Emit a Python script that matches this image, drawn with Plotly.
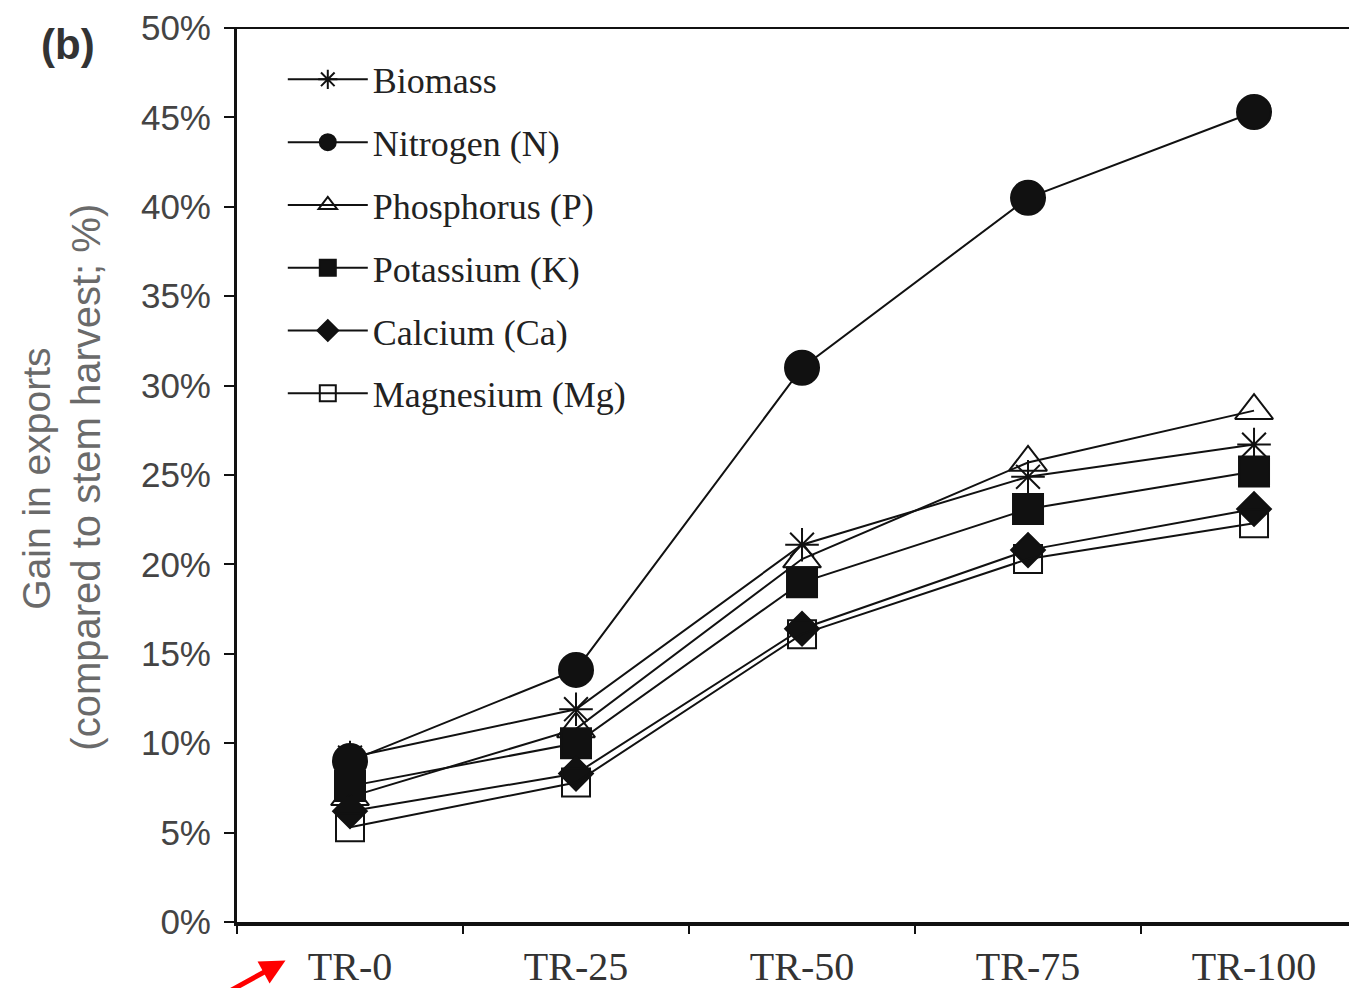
import plotly.graph_objects as go

categories = ["TR-0", "TR-25", "TR-50", "TR-75", "TR-100"]
biomass = [9.2, 11.9, 21.1, 24.9, 26.7]
nitrogen = [9.0, 14.1, 31.0, 40.5, 45.3]
phosphorus = [7.0, 10.8, 20.3, 25.7, 28.6]
potassium = [7.6, 10.0, 19.0, 23.1, 25.2]
calcium = [6.2, 8.3, 16.4, 20.8, 23.1]
magnesium = [5.3, 7.8, 16.1, 20.3, 22.3]
y_ticks = [0, 5, 10, 15, 20, 25, 30, 35, 40, 45, 50]
y_ticktext = [f"{v}%" for v in y_ticks]

series = [
    ("Biomass", biomass, "asterisk-open", 28),
    ("Nitrogen (N)", nitrogen, "circle", 34),
    ("Phosphorus (P)", phosphorus, "triangle-up-open", 33),
    ("Potassium (K)", potassium, "square", 30),
    ("Calcium (Ca)", calcium, "diamond", 26),
    ("Magnesium (Mg)", magnesium, "square-open", 28),
]

fig = go.Figure()
for i, (name, vals, sym, size) in enumerate(series):
    fig.add_trace(go.Scatter(
        x=categories, y=vals, name=name, mode="lines+markers",
        legendgroup=f"g{i}",
        line=dict(color="#111111", width=2),
        marker=dict(symbol=sym, size=size, color="#111111",
                    line=dict(color="#111111", width=2)),
    ))

fig.update_layout(
    width=1357, height=988,
    margin=dict(l=229, r=0, t=20, b=74),
    paper_bgcolor="white", plot_bgcolor="white",
    showlegend=True,
    legend=dict(
        x=0.0406, y=0.976, xanchor="left", yanchor="top",
        font=dict(family="Liberation Serif", size=36, color="#222222"),
        bgcolor="rgba(0,0,0,0)", tracegroupgap=13, itemwidth=80,
        traceorder="grouped",
    ),
    xaxis=dict(
        type="category", categoryorder="array", categoryarray=categories,
        range=[-0.5, 4.491], tickson="boundaries", ticks="outside",
        ticklen=8, tickwidth=2, tickcolor="#111111",
        showline=True, linewidth=4, linecolor="#111111",
        showgrid=False, zeroline=False, ticklabelstandoff=6,
        tickfont=dict(family="Liberation Serif", size=40, color="#333333"),
    ),
    yaxis=dict(
        range=[0, 50], tickvals=y_ticks, ticktext=y_ticktext,
        ticks="outside", ticklen=10, tickwidth=2, tickcolor="#111111",
        showline=True, linewidth=3, linecolor="#111111",
        showgrid=False, zeroline=False, ticklabelstandoff=6,
        tickfont=dict(family="Liberation Sans", size=35, color="#444444"),
    ),
    shapes=[dict(type="line", xref="paper", yref="paper", x0=-0.008, x1=1,
                 y0=1, y1=1, line=dict(color="#111111", width=2))],
    annotations=[
        dict(text="Gain in exports", xref="paper", yref="paper",
             x=-0.178, y=0.496, textangle=-90, showarrow=False,
             xanchor="center", yanchor="middle",
             font=dict(family="Liberation Sans", size=39, color="#6a6a6a")),
        dict(text="(compared to stem harvest; %)", xref="paper", yref="paper",
             x=-0.134, y=0.498, textangle=-90, showarrow=False,
             xanchor="center", yanchor="middle",
             font=dict(family="Liberation Sans", size=40, color="#6a6a6a")),
        dict(text="<b>(b)</b>", xref="paper", yref="paper",
             x=-0.15, y=0.981, showarrow=False,
             xanchor="center", yanchor="middle",
             font=dict(family="Liberation Sans", size=42, color="#333333")),
        dict(text="", xref="paper", yref="paper", x=0.043, y=-0.043,
             showarrow=True, ax=-62, ay=34, arrowcolor="#ff0000",
             arrowwidth=5, arrowhead=2, arrowsize=1),
    ],
)

fig.write_html("out.html")
